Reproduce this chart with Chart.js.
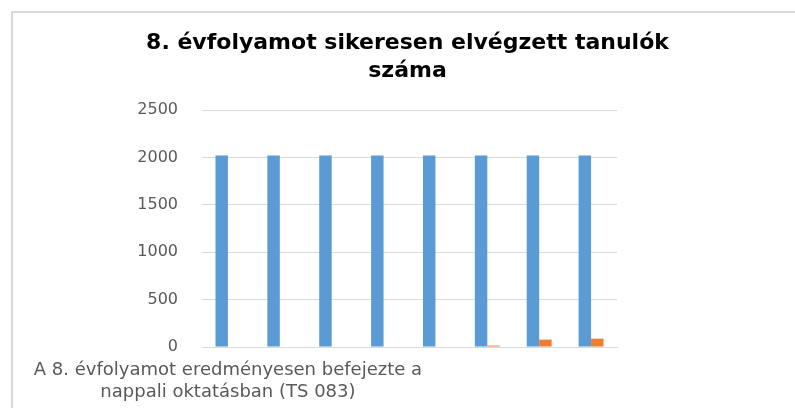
<!DOCTYPE html>
<html>
<head>
<meta charset="utf-8">
<script src="https://cdn.jsdelivr.net/npm/chart.js@4/dist/chart.umd.min.js"></script>
<style>
  html, body { margin: 0; padding: 0; background: #ffffff; overflow: hidden; }
  #wrap { position: relative; width: 795px; height: 408px; overflow: hidden; }
  #lineTop { position: absolute; left: 11px; top: 11px; width: 784px; height: 2px; background: #d9d9d9; }
  #lineLeft { position: absolute; left: 11px; top: 11px; width: 2px; height: 397px; background: #d9d9d9; }
  canvas { position: absolute; left: 0; top: 0; }
</style>
</head>
<body>
<div id="wrap">
  <div id="lineTop"></div>
  <div id="lineLeft"></div>
  <canvas id="c" width="795" height="408"></canvas>
</div>
<script>
const titleLines = ['8. évfolyamot sikeresen elvégzett tanulók', 'száma'];
const categories = [
  ['A 8. évfolyamot eredményesen befejezte a', 'nappali oktatásban (TS 083)'],
  '', '', '', '', '', '', ''
];
const seriesBlue = [2020, 2020, 2020, 2020, 2020, 2020, 2020, 2020];
const seriesOrange = [0, 0, 0, 0, 0, 15, 78, 88];
const yTicks = [0, 500, 1000, 1500, 2000, 2500];

const FONT = "'DejaVu Sans', 'Open Sans', sans-serif";

new Chart(document.getElementById('c'), {
  type: 'bar',
  data: {
    labels: categories,
    datasets: [
      { label: 'A', data: seriesBlue, backgroundColor: '#5b9bd5',
        categoryPercentage: 0.48, barPercentage: 1.0, yAxisID: 'y' },
      { label: 'B', data: seriesOrange, backgroundColor: '#ed7d31',
        categoryPercentage: 0.48, barPercentage: 1.0, yAxisID: 'y' }
    ]
  },
  options: {
    responsive: false,
    animation: false,
    layout: { padding: { top: 0, right: 0, bottom: 0, left: 20 } },
    plugins: {
      legend: { display: false },
      tooltip: { enabled: false },
      title: {
        display: true,
        text: titleLines,
        color: '#000000',
        font: { family: FONT, size: 22, weight: 'bold', lineHeight: 1.25 },
        padding: { top: 30, bottom: 25 }
      }
    },
    scales: {
      x: {
        afterFit: (s) => { s.height = 61; },
        grid: { display: false, drawTicks: false },
        border: { display: true, color: '#d9d9d9', width: 1 },
        ticks: {
          autoSkip: false, maxRotation: 0, minRotation: 0,
          color: '#595959', padding: 12,
          font: { family: FONT, size: 18, lineHeight: 1.22 }
        }
      },
      y: {
        position: 'left',
        min: yTicks[0], max: yTicks[yTicks.length - 1],
        afterBuildTicks: (s) => { s.ticks = yTicks.map(v => ({ value: v })); },
        afterFit: (s) => { s.width = 182; },
        grid: { color: '#d9d9d9', drawTicks: false },
        border: { display: false },
        ticks: {
          color: '#595959', padding: 24,
          font: { family: FONT, size: 16 },
          callback: (v) => String(v)
        }
      },
      yR: {
        position: 'right',
        min: 0, max: 1,
        afterFit: (s) => { s.width = 178; },
        grid: { display: false, drawTicks: false },
        border: { display: false },
        ticks: { display: false }
      }
    }
  }
});
</script>
</body>
</html>
